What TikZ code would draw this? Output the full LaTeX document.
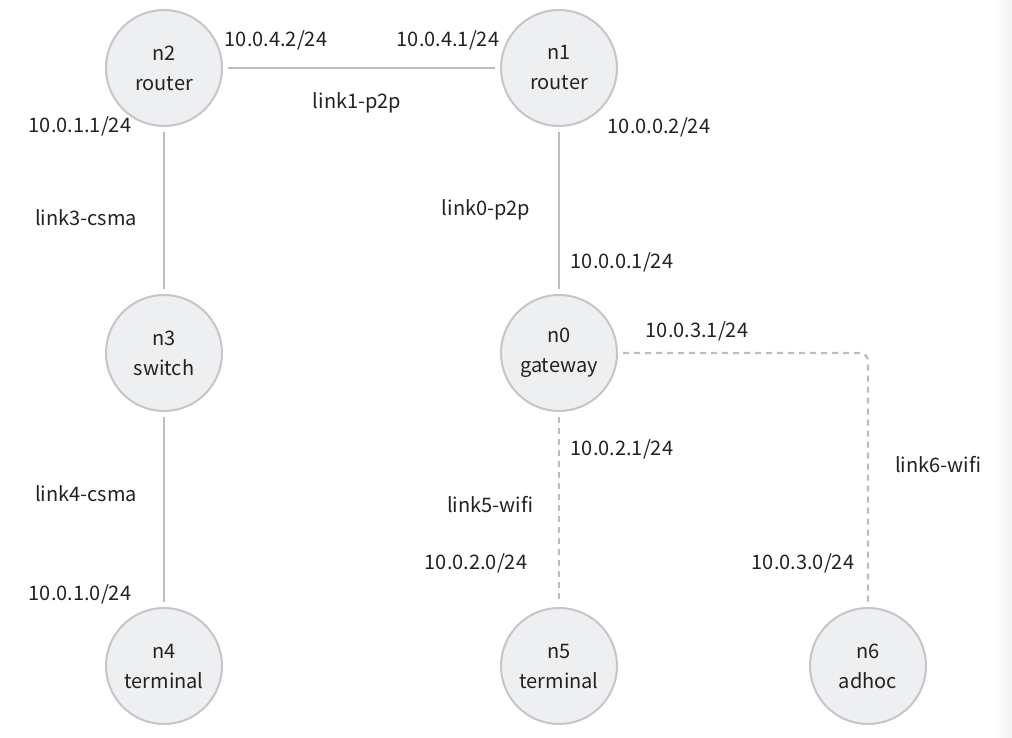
\documentclass[tikz,border=0pt]{standalone}
\usepackage{fontspec}
\setmainfont{Noto Sans CJK SC}
\definecolor{nodefill}{HTML}{EEEFF1}
\definecolor{nodeline}{HTML}{C4C6CA}
\definecolor{linkline}{HTML}{BDBDBD}
\definecolor{txt}{HTML}{222222}
\begin{document}
\begin{tikzpicture}[x=1pt,y=-1pt,
  netnode/.style={circle, draw=nodeline, fill=nodefill, line width=2pt, minimum size=116pt, inner sep=0pt, align=center, text=txt, font=\fontsize{20}{30}\selectfont, execute at begin node={\rule{0pt}{20pt}}},
  lbl/.style={text=txt, inner sep=0pt, font=\fontsize{20}{24}\selectfont},
  wire/.style={draw=linkline, line width=2.2pt, shorten <=5pt, shorten >=5pt},
  wifi/.style={wire, dash pattern=on 6pt off 5pt, rounded corners=8pt}]
\useasboundingbox (0,0) rectangle (1012,738);
\shade[left color=white, right color=black!5] (992,0) rectangle (1012,738);
\node[netnode] (n2) at (164,68) {n2\\router};
\node[netnode] (n1) at (559,68) {n1\\router};
\node[netnode] (n3) at (164,353) {n3\\switch};
\node[netnode] (n0) at (559,353) {n0\\gateway};
\node[netnode] (n4) at (164,666) {n4\\terminal};
\node[netnode] (n5) at (559,666) {n5\\terminal};
\node[netnode] (n6) at (868,666) {n6\\adhoc};
\coordinate (c6) at (868,353);
\draw[wire] (n2) -- (n1);
\draw[wire] (n1) -- (n0);
\draw[wire] (n2) -- (n3);
\draw[wire] (n3) -- (n4);
\draw[wifi] (n0) -- (n5);
\draw[wifi] (n0.east) -- (c6) -- (n6.north);
\node[lbl] (a1) at (276,40) {10.0.4.2/24};
\node[lbl] (a2) at (448,40) {10.0.4.1/24};
\node[lbl] (l1) at (357,103) {link1-p2p};
\node[lbl] (a3) at (80,126) {10.0.1.1/24};
\node[lbl] (a4) at (659,127) {10.0.0.2/24};
\node[lbl] (l3) at (86,218) {link3-csma};
\node[lbl] (l0) at (486,210) {link0-p2p};
\node[lbl] (a5) at (622,262) {10.0.0.1/24};
\node[lbl] (a6) at (697,331) {10.0.3.1/24};
\node[lbl] (a7) at (622,449) {10.0.2.1/24};
\node[lbl] (l6) at (938,465) {link6-wifi};
\node[lbl] (l4) at (86,494) {link4-csma};
\node[lbl] (l5) at (490,505) {link5-wifi};
\node[lbl] (a8) at (476,563) {10.0.2.0/24};
\node[lbl] (a9) at (803,563) {10.0.3.0/24};
\node[lbl] (a10) at (80,594) {10.0.1.0/24};
\end{tikzpicture}
\end{document}
